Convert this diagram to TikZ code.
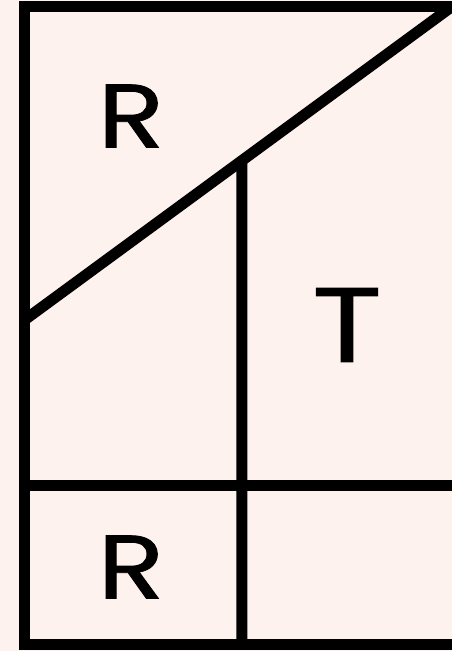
\documentclass[tikz,border=0pt]{standalone}
\usepackage{fontspec}
\setmainfont{Poppins}[FakeBold=0.9]
\usetikzlibrary{calc}
\definecolor{paper}{RGB}{253,242,237}

\begin{document}
\begin{tikzpicture}[
		x=1pt, y=1pt,
		wall/.style={line width=11pt, line join=miter, black},
		letter/.style={inner sep=0pt, xscale=1.22, font=\fontsize{90}{90}\selectfont},
		bigletter/.style={letter, font=\fontsize{106}{106}\selectfont}
		]
		\clip (0,0) rectangle (452,651);
		\fill[paper] (0,0) rectangle (452,651);

		\coordinate (top left) at (24.5,644.5);
		\coordinate (bottom right) at (458,6.5);
		\coordinate (slope start) at (24.5,331);
		\coordinate (slope end) at (452,644.5);
		\coordinate (split top) at ($(slope start)!0.5082!(slope end)$);
		\coordinate (split bottom) at (242,6.5);
		\coordinate (shelf left) at (24.5,165);
		\coordinate (shelf right) at (458,165);

		\draw[wall] (top left) rectangle (bottom right);
		\draw[wall] (slope start) -- (slope end);
		\draw[wall] (split top) -- (split bottom);
		\draw[wall] (shelf left) -- (shelf right);

		\node[letter] (roof) at (131,535) {R};
		\node[bigletter] (tower) at (347,326) {T};
		\node[letter] (base) at (131,84) {R};
	\end{tikzpicture}
\end{document}
